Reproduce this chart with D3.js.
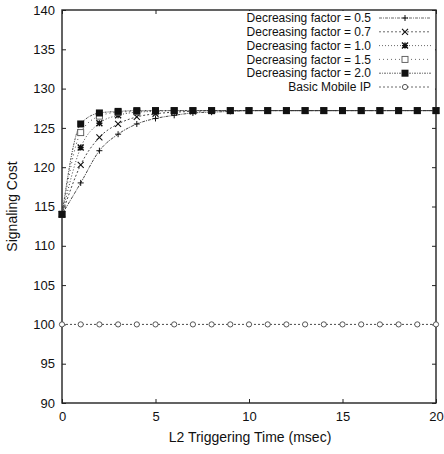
<!DOCTYPE html>
<html><head><meta charset="utf-8">
<script src="https://cdn.jsdelivr.net/npm/d3@7"></script>
<style>body{margin:0;background:#fff}svg{display:block}text{font-family:"Liberation Sans",Arial,sans-serif;fill:#111}</style>
</head><body>
<svg id="c" width="444" height="454"></svg>
<script>
const xValues = d3.range(0, 21);
const f05 = [114, 118.0, 122.1, 124.2, 125.5, 126.2, 126.6, 126.9, 127.0, 127.1, 127.2, 127.2, 127.2, 127.2, 127.2, 127.2, 127.2, 127.2, 127.2, 127.2, 127.2];
const f07 = [114, 120.3, 123.8, 125.5, 126.4, 126.8, 127.0, 127.1, 127.2, 127.2, 127.2, 127.2, 127.2, 127.2, 127.2, 127.2, 127.2, 127.2, 127.2, 127.2, 127.2];
const f10 = [114, 122.5, 125.6, 126.6, 127.0, 127.1, 127.2, 127.2, 127.2, 127.2, 127.2, 127.2, 127.2, 127.2, 127.2, 127.2, 127.2, 127.2, 127.2, 127.2, 127.2];
const f15 = [114, 124.4, 126.5, 127.0, 127.1, 127.2, 127.2, 127.2, 127.2, 127.2, 127.2, 127.2, 127.2, 127.2, 127.2, 127.2, 127.2, 127.2, 127.2, 127.2, 127.2];
const f20 = [114, 125.5, 126.9, 127.1, 127.2, 127.2, 127.2, 127.2, 127.2, 127.2, 127.2, 127.2, 127.2, 127.2, 127.2, 127.2, 127.2, 127.2, 127.2, 127.2, 127.2];
const basic = [100, 100, 100, 100, 100, 100, 100, 100, 100, 100, 100, 100, 100, 100, 100, 100, 100, 100, 100, 100, 100];
const seriesNames = ["Decreasing factor = 0.5", "Decreasing factor = 0.7", "Decreasing factor = 1.0", "Decreasing factor = 1.5", "Decreasing factor = 2.0", "Basic Mobile IP"];
const xTicks = [0, 5, 10, 15, 20];
const yTicks = [90, 95, 100, 105, 110, 115, 120, 125, 130, 135, 140];

const series = [
  {name: seriesNames[0], values: f05, marker: "plus", dash: "3,1,1,1"},
  {name: seriesNames[1], values: f07, marker: "x", dash: "2,2"},
  {name: seriesNames[2], values: f10, marker: "star", dash: "1,2"},
  {name: seriesNames[3], values: f15, marker: "osq", dash: "1,3"},
  {name: seriesNames[4], values: f20, marker: "fsq", dash: "2,1,1,1"},
  {name: seriesNames[5], values: basic, marker: "circ", dash: "2,2"}
];

const svg = d3.select("#c");
const L = 62, R = 436, T = 10, B = 403;
const x = d3.scaleLinear().domain([0, 20]).range([L, R]);
const y = d3.scaleLinear().domain([90, 140]).range([B, T]);
const FONT = '"Liberation Sans",Arial,sans-serif';

svg.append("rect").attr("x", L).attr("y", T).attr("width", R - L).attr("height", B - T)
  .attr("fill", "none").attr("stroke", "#222").attr("stroke-width", 1.4);

const gl = svg.append("g").attr("transform", `translate(${L},0)`)
  .call(d3.axisLeft(y).tickValues(yTicks).tickSizeInner(-4).tickSizeOuter(0).tickPadding(7));
const gr = svg.append("g").attr("transform", `translate(${R},0)`)
  .call(d3.axisRight(y).tickValues(yTicks).tickSizeInner(-4).tickSizeOuter(0).tickFormat(""));
const gb = svg.append("g").attr("transform", `translate(0,${B})`)
  .call(d3.axisBottom(x).tickValues(xTicks).tickSizeInner(-4).tickSizeOuter(0).tickPadding(9));
const gt = svg.append("g").attr("transform", `translate(0,${T})`)
  .call(d3.axisTop(x).tickValues(xTicks).tickSizeInner(-4).tickSizeOuter(0).tickFormat(""));
[gl, gr, gb, gt].forEach(g => {
  g.select(".domain").remove();
  g.selectAll("line").attr("stroke", "#222");
  g.selectAll("text").style("font-size", "13px").style("font-family", FONT).attr("fill", "#111");
});

svg.append("text").attr("x", (L + R) / 2 + 1).attr("y", 442).attr("text-anchor", "middle")
  .style("font-size", "14px").text("L2 Triggering Time (msec)");
svg.append("text").attr("transform", `translate(17,${(T + B) / 2}) rotate(-90)`).attr("text-anchor", "middle")
  .style("font-size", "14px").text("Signaling Cost");

function marker(g, type, cx, cy) {
  const s = 3;
  if (type === "plus") {
    g.append("path").attr("d", `M${cx - s},${cy}H${cx + s}M${cx},${cy - s}V${cy + s}`).attr("stroke", "#111").attr("stroke-width", 1);
  } else if (type === "x") {
    g.append("path").attr("d", `M${cx - s},${cy - s}L${cx + s},${cy + s}M${cx - s},${cy + s}L${cx + s},${cy - s}`).attr("stroke", "#111").attr("stroke-width", 1.1);
  } else if (type === "star") {
    g.append("path").attr("d", `M${cx - s},${cy - s}L${cx + s},${cy + s}M${cx - s},${cy + s}L${cx + s},${cy - s}M${cx - s},${cy}H${cx + s}M${cx},${cy - s}V${cy + s}`).attr("stroke", "#111").attr("stroke-width", 1.4);
  } else if (type === "osq") {
    g.append("rect").attr("x", cx - s).attr("y", cy - s).attr("width", 2 * s).attr("height", 2 * s).attr("fill", "#fff").attr("stroke", "#555").attr("stroke-width", 0.9);
  } else if (type === "fsq") {
    g.append("rect").attr("x", cx - 3.5).attr("y", cy - 3.5).attr("width", 7).attr("height", 7).attr("fill", "#111");
  } else if (type === "circ") {
    g.append("circle").attr("cx", cx).attr("cy", cy).attr("r", 2.6).attr("fill", "#fff").attr("stroke", "#444").attr("stroke-width", 0.9);
  }
}

const line = d3.line().x((d, i) => x(xValues[i])).y(d => y(d)).curve(d3.curveMonotoneX);
series.forEach(s => {
  svg.append("path").datum(s.values).attr("d", line).attr("fill", "none")
    .attr("stroke", "#333").attr("stroke-width", 0.9).attr("stroke-dasharray", s.dash);
});
series.forEach(s => {
  const g = svg.append("g");
  s.values.forEach((v, i) => marker(g, s.marker, x(xValues[i]), y(v)));
});

const lg = svg.append("g");
lg.append("rect").attr("x", 222).attr("y", 11).attr("width", 213).attr("height", 83).attr("fill", "#fff");
series.forEach((s, i) => {
  const yy = 18 + i * 13.8;
  lg.append("text").attr("x", 371).attr("y", yy + 4.2).attr("text-anchor", "end").style("font-size", "12px").text(s.name);
  lg.append("line").attr("x1", 379).attr("x2", 431).attr("y1", yy).attr("y2", yy)
    .attr("stroke", "#444").attr("stroke-width", 0.8).attr("stroke-dasharray", s.dash);
  marker(lg, s.marker, 405, yy);
});
</script>
</body></html>
